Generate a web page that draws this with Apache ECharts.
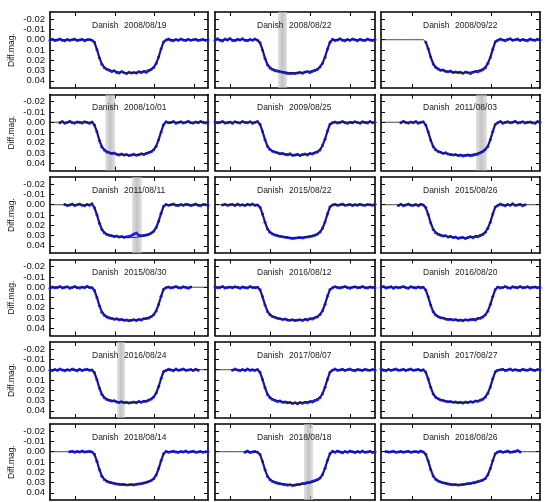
<!DOCTYPE html>
<html><head><meta charset="utf-8">
<script src="https://cdn.jsdelivr.net/npm/echarts@6/dist/echarts.min.js"></script>
<style>html,body{margin:0;padding:0;background:#fff}#c{width:546px;height:502px}</style>
</head><body><div id="c"></div>
<script>
// time grid (hours from mid-transit)
const xs = [-4,-3.875,-3.75,-3.625,-3.5,-3.375,-3.25,-3.125,-3,-2.875,-2.75,-2.625,-2.5,-2.375,-2.25,-2.125,-2,-1.875,
 -1.75,-1.625,-1.5,-1.375,-1.25,-1.125,-1,-0.875,-0.75,-0.625,-0.5,-0.375,-0.25,-0.125,0,0.125,0.25,0.375,0.5,0.625,0.75,0.875,1,1.125,1.25,1.375,1.5,1.625,1.75,
 1.875,2,2.125,2.25,2.375,2.5,2.625,2.75,2.875,3,3.125,3.25,3.375,3.5,3.625,3.75,3.875,4];
// model light curve (black line)
const model = [0,0,0,0,0,0,0,0,0,0,0,0,0,0,0,0,0,0,
 0.002,0.009,0.017,0.0230,0.0263,0.0280,0.0291,0.0299,0.0305,0.0310,0.0314,0.0317,0.0319,0.0320,0.0321,0.0320,0.0319,0.0317,0.0314,0.0310,0.0305,0.0299,0.0291,0.0280,0.0263,0.0230,0.017,0.009,0.002,
 0,0,0,0,0,0,0,0,0,0,0,0,0,0,0,0,0,0];
const labels = ['2008/08/19','2008/08/22','2008/09/22','2008/10/01','2009/08/25','2011/08/03',
 '2011/08/11','2015/08/22','2015/08/26','2015/08/30','2016/08/12','2016/08/20',
 '2016/08/24','2017/08/07','2017/08/27','2018/08/14','2018/08/18','2018/08/26'];
const observatory = 'Danish';
const bands = [null,[-0.85,-0.4],null,[-1.2,-0.7],null,[0.78,1.33],[0.15,0.65],null,null,null,null,null,[-0.6,-0.2],null,null,null,[0.45,0.9],null];
const yTicks = [-0.02,-0.01,0,0.01,0.02,0.03,0.04];
const colTicks = [[-2.7,-0.7,1.3,3.3],[-3.25,-1.25,0.75,2.75],[-2.45,-0.45,1.55,3.55]];
const N = null;
const d1 = [0.0005,-0.0005,0.0008,0.0002,-0.0008,0.0004,0.0010,-0.0003,0.0006,0.0000,-0.0006,0.0007,0.0003,-0.0004,0.0009,0.0001,-0.0002,0.0005,
 0.0025,0.0095,0.0175,0.0238,0.0272,0.0288,0.0296,0.0309,0.0302,0.0318,0.0325,0.0310,0.0322,0.0328,0.0316,0.0324,0.0319,0.0325,0.0312,0.0320,0.0309,0.0316,0.0302,0.0289,0.0270,0.0232,0.0168,0.0088,0.0022,
 0.0003,-0.0006,0.0004,0.0009,-0.0002,0.0006,-0.0007,0.0002,0.0008,-0.0004,0.0005,0.0001,-0.0005,0.0007,0.0003,-0.0003,0.0006,0.0000];
const d2 = [0.0008,-0.0010,0.0004,0.0012,-0.0006,0.0002,-0.0012,0.0007,0.0010,-0.0004,0.0003,-0.0009,0.0006,0.0011,-0.0002,0.0005,-0.0007,0.0004,
 0.0030,0.0100,0.0182,0.0245,0.0275,0.0290,0.0301,0.0305,0.0312,0.0316,0.0322,0.0327,0.0330,0.0326,0.0329,0.0323,0.0318,0.0326,0.0315,0.0311,0.0318,0.0306,0.0300,0.0287,0.0265,0.0228,0.0170,0.0090,0.0025,
 -0.0004,0.0007,0.0002,-0.0009,0.0005,0.0010,-0.0003,0.0006,-0.0008,0.0001,0.0009,-0.0005,0.0004,0.0007,-0.0006,0.0002,0.0008,-0.0002];
const d3 = [N,N,N,N,N,N,N,N,N,N,N,N,N,N,N,N,N,N,
 0.0022,0.0088,0.0168,0.0236,0.0268,0.0285,0.0297,0.0294,0.0308,0.0312,0.0305,0.0318,0.0313,0.0320,0.0316,0.0326,0.0314,0.0322,0.0328,0.0317,0.0310,0.0312,0.0301,0.0292,0.0272,0.0230,0.0172,0.0092,0.0020,
 0.0006,-0.0008,0.0003,0.0010,-0.0002,-0.0009,0.0005,0.0001,-0.0006,0.0008,-0.0003,0.0004,0.0009,-0.0007,0.0002,0.0006,-0.0004,0.0003];
const d4 = [N,N,N,N,0.0004,-0.0006,0.0009,0.0002,-0.0010,0.0005,0.0008,-0.0003,0.0001,0.0007,-0.0005,0.0003,0.0010,-0.0002,
 0.0028,0.0092,0.0178,0.0240,0.0270,0.0290,0.0296,0.0305,0.0300,0.0312,0.0318,0.0309,0.0320,0.0315,0.0324,0.0318,0.0312,0.0321,0.0316,0.0308,0.0313,0.0304,0.0296,0.0288,0.0268,0.0233,0.0170,0.0094,0.0024,
 -0.0005,0.0006,0.0002,-0.0008,0.0009,0.0003,-0.0004,0.0007,0.0000,-0.0009,0.0005,0.0008,-0.0002,0.0004,-0.0006,0.0001,0.0007,-0.0003];
const d5 = [-0.0003,0.0006,0.0001,-0.0007,0.0008,0.0004,-0.0002,0.0009,-0.0005,0.0003,0.0007,-0.0008,0.0002,0.0005,-0.0004,0.0010,0.0001,-0.0006,
 0.0020,0.0090,0.0170,0.0235,0.0266,0.0282,0.0290,0.0298,0.0306,0.0303,0.0311,0.0316,0.0308,0.0322,0.0318,0.0312,0.0324,0.0315,0.0310,0.0319,0.0305,0.0309,0.0298,0.0290,0.0270,0.0226,0.0165,0.0085,0.0019,
 0.0005,-0.0003,0.0008,0.0002,-0.0007,0.0004,0.0009,-0.0001,0.0006,-0.0005,0.0003,0.0010,-0.0004,0.0002,0.0007,-0.0008,0.0004,0.0001];
const d6 = [N,N,N,N,N,N,N,N,0.0006,-0.0009,0.0003,0.0008,-0.0002,0.0005,-0.0006,0.0010,0.0001,-0.0004,
 0.0026,0.0094,0.0174,0.0238,0.0269,0.0284,0.0293,0.0302,0.0298,0.0309,0.0313,0.0319,0.0314,0.0325,0.0320,0.0328,0.0323,0.0318,0.0326,0.0321,0.0314,0.0310,0.0297,0.0286,0.0264,0.0236,0.0170,0.0090,0.0021,
 0.0004,-0.0007,0.0009,0.0002,-0.0004,0.0006,0.0000,-0.0009,0.0007,0.0003,-0.0005,0.0008,0.0001,-0.0003,0.0006,0.0010,-0.0006,0.0002];
const d7 = [N,N,N,N,N,N,-0.0002,0.0008,0.0003,-0.0006,0.0007,0.0001,-0.0008,0.0005,0.0009,-0.0003,0.0004,-0.0010,
 0.0030,0.0098,0.0180,0.0242,0.0274,0.0289,0.0298,0.0303,0.0309,0.0305,0.0314,0.0310,0.0316,0.0312,0.0308,0.0300,0.0285,0.0276,0.0296,0.0303,0.0298,0.0294,0.0288,0.0276,0.0258,0.0222,0.0160,0.0082,0.0015,
 -0.0003,0.0005,0.0001,-0.0007,0.0004,0.0008,-0.0002,0.0006,-0.0005,-0.0001,0.0007,0.0002,-0.0006,0.0004,0.0009,-0.0003,0.0001,0.0005];
const d8 = [N,N,N,0.0002,-0.0005,0.0006,0.0001,-0.0003,0.0007,-0.0006,0.0004,0.0000,0.0008,-0.0004,0.0003,-0.0007,0.0005,0.0002,
 0.0024,0.0090,0.0171,0.0236,0.0268,0.0284,0.0294,0.0301,0.0308,0.0312,0.0316,0.0320,0.0324,0.0328,0.0325,0.0322,0.0318,0.0323,0.0316,0.0313,0.0310,0.0304,0.0297,0.0285,0.0266,0.0230,0.0168,0.0089,0.0020,
 0.0003,-0.0004,0.0006,0.0000,-0.0006,0.0005,0.0002,-0.0003,0.0007,-0.0001,0.0004,-0.0005,0.0003,0.0006,-0.0002,0.0001,0.0004,-0.0004];
const d9 = [N,N,N,N,N,N,N,0.0007,-0.0004,0.0009,0.0002,-0.0008,0.0004,0.0006,-0.0002,0.0010,-0.0005,0.0003,
 0.0028,0.0096,0.0176,0.0240,0.0272,0.0287,0.0296,0.0305,0.0301,0.0313,0.0308,0.0320,0.0315,0.0327,0.0322,0.0318,0.0330,0.0319,0.0312,0.0321,0.0309,0.0311,0.0300,0.0289,0.0268,0.0228,0.0170,0.0090,0.0023,
 0.0008,-0.0006,0.0003,0.0010,-0.0002,0.0005,-0.0009,0.0006,0.0002,-0.0004,0.0009,0.0001,N,N,N,N,N,N];
const d10 = [0.0010,-0.0003,0.0006,0.0002,-0.0008,0.0007,0.0001,-0.0005,0.0009,0.0003,-0.0006,0.0004,0.0008,-0.0002,0.0005,-0.0009,0.0003,0.0006,
 0.0032,0.0100,0.0180,0.0243,0.0273,0.0289,0.0299,0.0304,0.0311,0.0308,0.0317,0.0313,0.0322,0.0318,0.0326,0.0321,0.0316,0.0323,0.0314,0.0319,0.0308,0.0305,0.0299,0.0287,0.0268,0.0231,0.0168,0.0088,0.0020,
 0.0005,-0.0002,0.0008,0.0001,-0.0006,0.0004,0.0007,-0.0004,0.0002,0.0009,-0.0003,N,N,N,N,N,N,N];
const d11 = [-0.0004,0.0005,0.0002,-0.0007,0.0008,0.0003,-0.0002,0.0006,-0.0005,0.0001,0.0009,-0.0003,0.0004,0.0007,-0.0006,0.0002,0.0005,-0.0001,
 0.0024,0.0092,0.0172,0.0237,0.0268,0.0286,0.0293,0.0302,0.0307,0.0314,0.0310,0.0318,0.0322,0.0316,0.0325,0.0320,0.0317,0.0323,0.0312,0.0318,0.0306,0.0309,0.0297,0.0288,0.0266,0.0229,0.0166,0.0086,0.0021,
 0.0006,-0.0005,0.0003,0.0008,-0.0001,-0.0007,0.0004,0.0009,0.0000,-0.0004,0.0006,0.0002,-0.0008,0.0005,0.0007,-0.0003,0.0002,0.0004];
const d12 = [0.0003,-0.0008,0.0007,0.0001,-0.0004,0.0009,-0.0002,0.0005,0.0000,-0.0007,0.0006,0.0010,-0.0005,0.0002,0.0008,-0.0003,0.0004,-0.0001,
 0.0026,0.0095,0.0174,0.0239,0.0270,0.0287,0.0297,0.0300,0.0309,0.0315,0.0311,0.0319,0.0314,0.0323,0.0319,0.0326,0.0317,0.0321,0.0316,0.0313,0.0319,0.0304,0.0302,0.0290,0.0269,0.0232,0.0169,0.0091,0.0023,
 -0.0002,0.0007,0.0003,-0.0006,0.0005,0.0009,-0.0004,0.0001,0.0006,-0.0008,0.0004,0.0002,-0.0005,0.0008,0.0000,-0.0003,0.0006,0.0003];
const d13 = [0.0004,0.0008,-0.0003,0.0006,-0.0007,0.0002,0.0009,-0.0001,0.0005,-0.0006,0.0003,0.0010,-0.0004,0.0007,0.0001,-0.0005,0.0006,0.0002,
 0.0030,0.0098,0.0178,0.0241,0.0273,0.0290,0.0298,0.0305,0.0302,0.0313,0.0318,0.0311,0.0321,0.0316,0.0324,0.0319,0.0314,0.0322,0.0310,0.0316,0.0306,0.0308,0.0297,0.0286,0.0265,0.0227,0.0164,0.0085,0.0018,
 0.0007,-0.0004,0.0002,0.0009,-0.0006,0.0005,0.0001,-0.0008,0.0006,0.0003,-0.0002,0.0008,-0.0005,0.0004,N,N,N,N];
const d14 = [N,N,N,N,N,N,N,0.0005,-0.0006,0.0003,0.0009,-0.0002,0.0007,-0.0008,0.0004,0.0001,0.0006,-0.0003,
 0.0025,0.0094,0.0176,0.0241,0.0273,0.0291,0.0300,0.0309,0.0304,0.0317,0.0313,0.0322,0.0318,0.0328,0.0322,0.0331,0.0320,0.0326,0.0316,0.0321,0.0311,0.0314,0.0302,0.0292,0.0272,0.0234,0.0171,0.0092,0.0024,
 0.0004,-0.0007,0.0006,0.0002,-0.0004,0.0008,0.0000,-0.0006,0.0005,0.0009,-0.0003,0.0002,0.0007,-0.0005,0.0003,0.0006,-0.0002,0.0004];
const d15 = [-0.0006,0.0004,0.0009,-0.0002,0.0006,0.0001,-0.0008,0.0005,0.0003,-0.0004,0.0008,0.0000,-0.0007,0.0006,0.0002,-0.0003,0.0007,0.0001,
 0.0023,0.0091,0.0171,0.0236,0.0267,0.0283,0.0295,0.0299,0.0306,0.0312,0.0309,0.0317,0.0313,0.0321,0.0317,0.0323,0.0315,0.0320,0.0311,0.0316,0.0305,0.0307,0.0296,0.0287,0.0265,0.0228,0.0167,0.0087,0.0020,
 0.0005,0.0001,-0.0005,0.0008,0.0003,-0.0007,0.0006,-0.0001,0.0004,0.0009,-0.0004,0.0002,0.0006,-0.0006,0.0003,0.0008,-0.0002,0.0001];
const d16 = [N,N,N,N,N,N,N,N,0.0001,-0.0005,0.0004,-0.0002,0.0003,-0.0006,0.0002,0.0000,-0.0004,0.0003,
 0.0025,0.0093,0.0173,0.0238,0.0270,0.0287,0.0296,0.0303,0.0309,0.0313,0.0317,0.0320,0.0318,0.0324,0.0322,0.0319,0.0323,0.0316,0.0313,0.0310,0.0305,0.0298,0.0290,0.0280,0.0262,0.0226,0.0164,0.0086,0.0020,
 -0.0003,0.0004,0.0001,-0.0005,0.0002,0.0006,-0.0002,0.0003,-0.0006,0.0005,0.0000,-0.0004,0.0004,0.0002,-0.0003,0.0005,0.0001,-0.0002];
const d17 = [N,N,N,N,N,N,N,N,N,N,N,N,0.0004,-0.0006,0.0007,0.0002,-0.0003,0.0005,
 0.0027,0.0095,0.0176,0.0240,0.0272,0.0289,0.0298,0.0306,0.0312,0.0316,0.0321,0.0325,0.0322,0.0328,0.0325,0.0320,0.0316,0.0310,0.0306,0.0300,0.0296,0.0288,0.0280,0.0271,0.0256,0.0222,0.0160,0.0083,0.0018,
 -0.0004,0.0006,-0.0008,0.0003,0.0009,-0.0002,0.0005,-0.0006,0.0001,0.0008,-0.0003,0.0004,-0.0007,0.0006,0.0002,-0.0005,0.0007,0.0000];
const d18 = [N,N,-0.0002,0.0003,0.0001,-0.0004,0.0005,0.0002,-0.0003,0.0004,0.0000,-0.0005,0.0006,0.0001,-0.0002,0.0004,-0.0006,0.0002,
 0.0024,0.0091,0.0172,0.0237,0.0268,0.0285,0.0294,0.0303,0.0308,0.0313,0.0318,0.0322,0.0320,0.0325,0.0322,0.0318,0.0315,0.0310,0.0308,0.0302,0.0296,0.0290,0.0283,0.0275,0.0260,0.0225,0.0163,0.0085,0.0019,
 0.0003,-0.0004,0.0005,0.0001,-0.0006,0.0004,0.0002,-0.0003,-0.0012,0.0002,N,N,N,N,N,N,N,N];
const obs = [d1,d2,d3,d4,d5,d6,d7,d8,d9,d10,d11,d12,d13,d14,d15,d16,d17,d18];

const chart = echarts.init(document.getElementById('c'), null, {renderer:'canvas'});
const FONT = '"Liberation Sans", Arial, sans-serif';
const colLeft = [50, 215, 381], colW = [158, 160, 159];
const rowTop = [12, 94.5, 177, 259.5, 342, 424], H = 76;
const grids = [], xAxes = [], yAxes = [], series = [], titles = [];
const axLine = {show:true, onZero:false, lineStyle:{color:'#000', width:1.6}};
for (let k = 0; k < 18; k++) {
  const r = Math.floor(k/3), c = k%3;
  const L = colLeft[c], T = rowTop[r];
  grids.push({left:L, top:T, width:colW[c], height:H, containLabel:false});
  const tick = {show:true, inside:true, length:4, lineStyle:{color:'#000', width:1}, customValues: colTicks[c]};
  xAxes.push({type:'value', gridIndex:k, position:'bottom', min:-4, max:4, axisLine:axLine, axisTick:tick, axisLabel:{show:false}, splitLine:{show:false}});
  xAxes.push({type:'value', gridIndex:k, position:'top', min:-4, max:4, axisLine:axLine, axisTick:tick, axisLabel:{show:false}, splitLine:{show:false}});
  const ytick = {show:true, inside:true, length:4, lineStyle:{color:'#000', width:1}, customValues: yTicks};
  const yl = {type:'value', gridIndex:k, position:'left', inverse:true, min:-0.027, max:0.047,
    axisLine:axLine, axisTick:ytick, splitLine:{show:false},
    axisLabel:{show:c===0, customValues:yTicks, margin:5, fontSize:9.5, fontFamily:FONT, color:'#111',
      formatter:v=>v.toFixed(2)}};
  if (c===0) { yl.name='Diff.mag.'; yl.nameLocation='middle'; yl.nameGap=34; yl.nameRotate=90;
    yl.nameTextStyle={fontSize:8.5, fontFamily:FONT, color:'#111'}; }
  yAxes.push(yl);
  yAxes.push({type:'value', gridIndex:k, position:'right', inverse:true, min:-0.027, max:0.047,
    axisLine:axLine, axisTick:ytick, axisLabel:{show:false}, splitLine:{show:false}});
  const modelPts = xs.map((x,i)=>[x, model[i]]);
  const obsPts = xs.map((x,i)=>[x, obs[k][i]]);
  const b = bands[k];
  if (b) {
    series.push({type:'line', xAxisIndex:2*k, yAxisIndex:2*k, data:[[xs[0],0]], symbol:'none', lineStyle:{opacity:0}, silent:true, z:1,
      markArea:{silent:true, itemStyle:{color:{type:'linear',x:0,y:0,x2:1,y2:0,colorStops:[
        {offset:0,color:'rgba(205,205,205,0.6)'},{offset:0.5,color:'rgba(175,175,175,0.75)'},{offset:1,color:'rgba(205,205,205,0.6)'}]}},
        data:[[{xAxis:b[0]},{xAxis:b[1]}]]}});
  }
  series.push({type:'line', xAxisIndex:2*k, yAxisIndex:2*k, data:obsPts, connectNulls:false, symbol:'circle', symbolSize:3,
    itemStyle:{color:'#1f1fe6'}, lineStyle:{color:'#1f1fe6', width:2.2}, z:2, silent:true, animation:false});
  series.push({type:'line', xAxisIndex:2*k, yAxisIndex:2*k, data:modelPts, symbol:'none',
    lineStyle:{color:'#111', width:0.8}, z:3, silent:true, animation:false});
  titles.push({text:observatory, left:L+42, top:T+9, padding:0, textStyle:{fontSize:8.5, fontWeight:'normal', fontFamily:FONT, color:'#222'}});
  titles.push({text:labels[k], left:L+74, top:T+9, padding:0, textStyle:{fontSize:8.5, fontWeight:'normal', fontFamily:FONT, color:'#222'}});
}
chart.setOption({backgroundColor:'#fff', animation:false, title:titles, grid:grids, xAxis:xAxes, yAxis:yAxes, series:series});
</script></body></html>
